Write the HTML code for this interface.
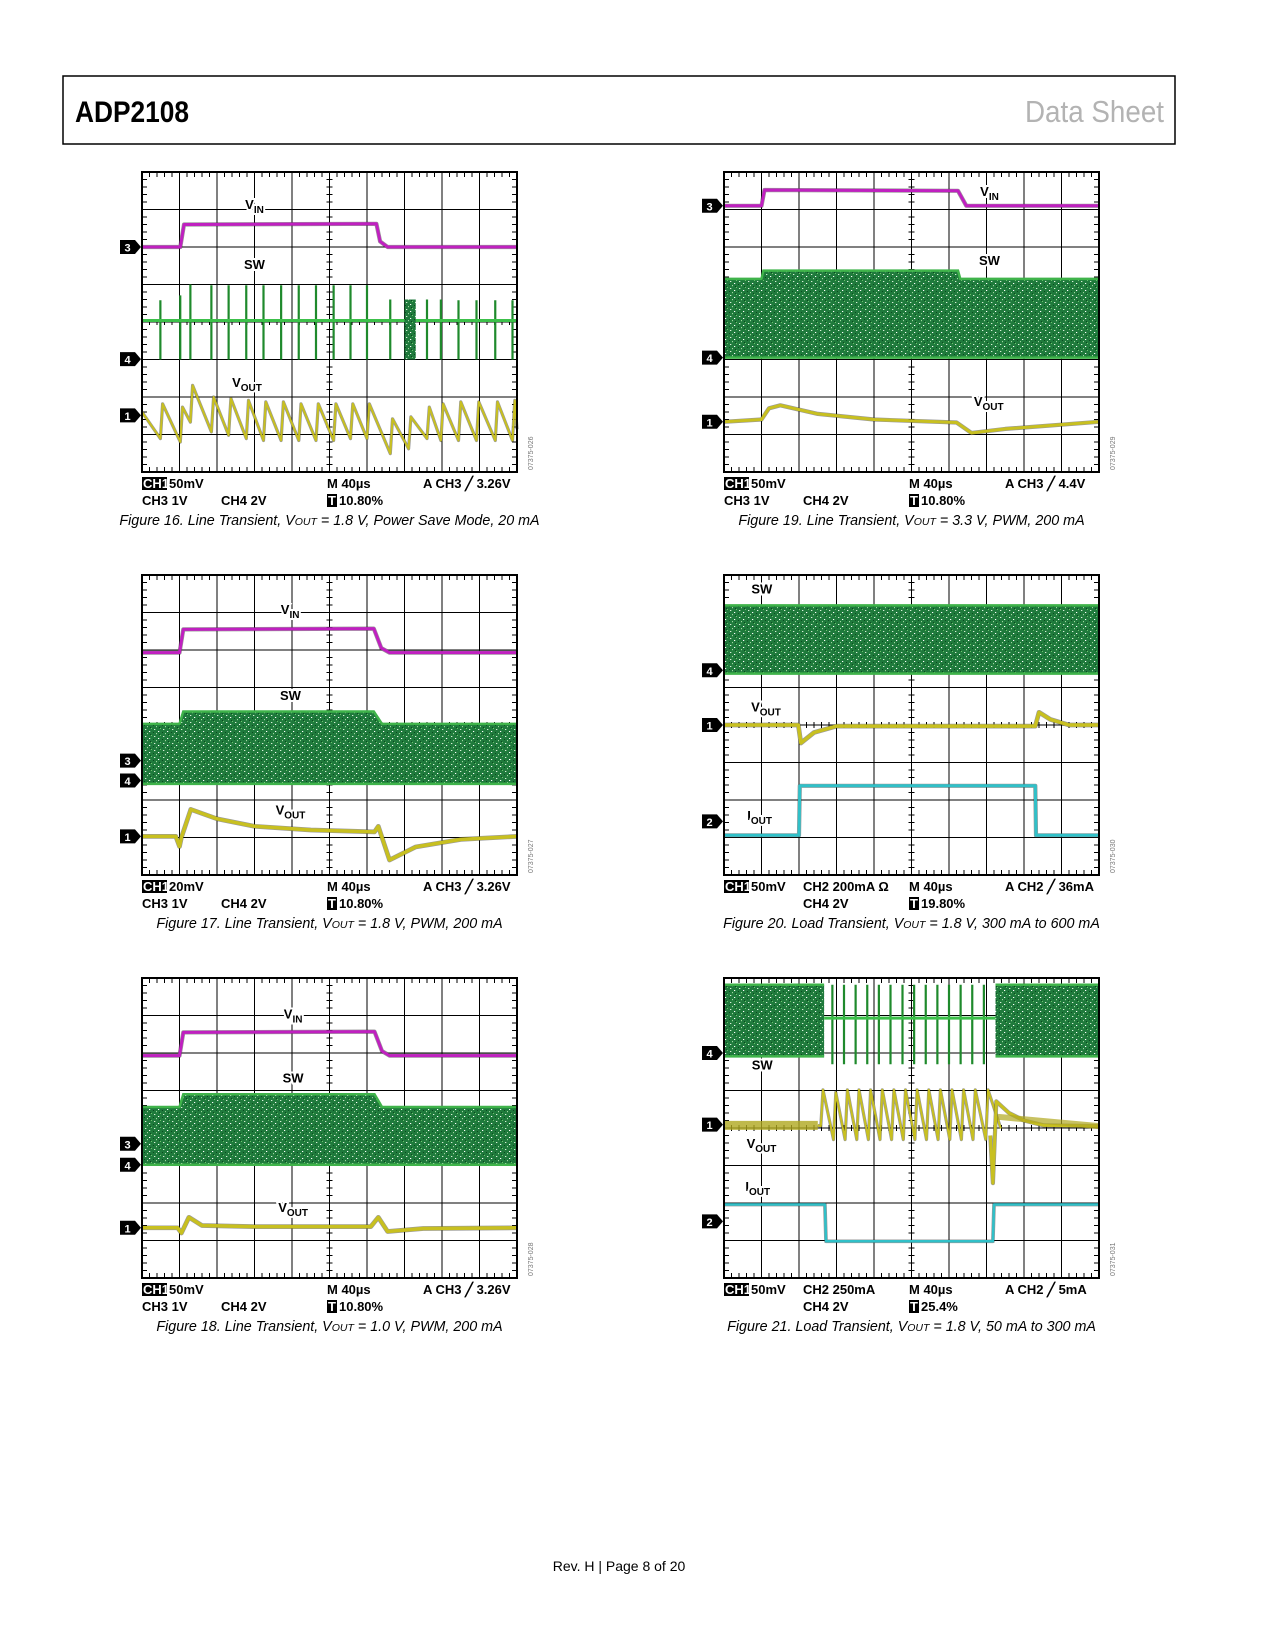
<!DOCTYPE html>
<html><head><meta charset="utf-8">
<style>
html,body{margin:0;padding:0;background:#fff;}
svg{display:block;}
text{font-family:"Liberation Sans",sans-serif;}
</style></head>
<body>
<svg id="page" width="1275" height="1650" viewBox="0 0 1275 1650" xmlns="http://www.w3.org/2000/svg">
<defs>
<pattern id="noise" width="9" height="7" patternUnits="userSpaceOnUse">
<rect width="9" height="7" fill="#1f7a3c"/>
<rect x="1" y="1" width="1.3" height="1" fill="#d8f0d8"/>
<rect x="5" y="3" width="1.2" height="1" fill="#ffffff"/>
<rect x="3" y="5" width="1" height="1.2" fill="#9fd89f"/>
<rect x="7" y="0" width="1" height="1" fill="#6cc46c"/>
<rect x="0" y="4" width="1" height="1" fill="#0c4a20"/>
<rect x="6" y="6" width="1" height="1" fill="#0c4a20"/>
</pattern>
</defs>
<rect x="63" y="76" width="1112" height="68" fill="none" stroke="#000" stroke-width="1.5"/>
<text x="75" y="122" font-size="30" font-weight="bold" textLength="114" lengthAdjust="spacingAndGlyphs">ADP2108</text>
<text x="1025" y="122" font-size="31" fill="#b3b3b3" textLength="139" lengthAdjust="spacingAndGlyphs">Data Sheet</text>
<text x="619" y="1571" font-size="14" text-anchor="middle">Rev. H | Page 8 of 20</text>
<g id="plots"></g>
</svg>
<script>
// ---------- Figure 16 data (divisions) ----------
const f16VinX=[0,1.02,1.12,6.25,6.35,6.55,10];
const f16VinY=[2.0,2.0,1.4,1.38,1.85,2.0,2.0];
const f16SpikeX=[0.49,1.02,1.29,1.85,2.31,2.78,3.24,3.71,4.18,4.64,5.11,5.56,6.0,6.62,7.11,7.6,7.97,8.44,8.92,9.42,9.88];
const f16SpikeTop=[3.42,3.29,3.0,3.02,3.02,3.02,3.02,3.02,3.02,3.02,3.02,3.02,3.02,3.4,3.4,3.4,3.4,3.42,3.42,3.42,3.42];
const f16RipPeak=[6.18,6.27,5.69,6.0,6.04,6.09,6.13,6.13,6.18,6.18,6.18,6.18,6.18,6.58,6.53,6.27,6.18,6.13,6.13,6.13,6.09];
const f16RipTrough=[7.11,7.2,6.67,6.93,7.02,7.11,7.16,7.16,7.16,7.16,7.16,7.11,7.11,7.51,7.38,7.11,7.16,7.16,7.16,7.16,7.16];
// ---------- Figure 19 ----------
const f19VinX=[0,1.0,1.08,6.24,6.46,10];
const f19VinY=[0.9,0.9,0.48,0.5,0.9,0.9];
const f19BandX=[0,1.0,1.05,6.24,6.3,10];
const f19BandTop=[2.85,2.85,2.63,2.63,2.85,2.85];
const f19BandBot=4.95;
const f19VoutX=[0,1.0,1.2,1.5,2.5,4,6.2,6.3,6.6,7.5,10];
const f19VoutY=[6.66,6.6,6.3,6.22,6.45,6.6,6.68,6.75,6.96,6.85,6.66];
// ---------- Figure 17 ----------
const f17VinX=[0,1.0,1.1,6.18,6.38,6.6,10];
const f17VinY=[2.07,2.07,1.45,1.43,1.95,2.07,2.07];
const f17BandX=[0,1.0,1.1,6.18,6.4,10];
const f17BandTop=[3.97,3.97,3.64,3.64,3.97,3.97];
const f17BandBot=5.57;
const f17VoutX=[0,0.9,1.0,1.05,1.3,2,3,4.5,6.2,6.3,6.6,7.3,8.5,10];
const f17VoutY=[6.97,6.97,7.24,7.0,6.25,6.5,6.7,6.8,6.85,6.7,7.6,7.25,7.05,6.97];
// ---------- Figure 18 ----------
const f18VinX=[0,1.0,1.1,6.2,6.4,6.6,10];
const f18VinY=[2.07,2.07,1.45,1.43,1.95,2.07,2.07];
const f18BandX=[0,1.0,1.1,6.2,6.4,10];
const f18BandTop=[3.44,3.44,3.1,3.1,3.44,3.44];
const f18BandBot=4.98;
const f18VoutX=[0,0.95,1.05,1.25,1.6,3,6.1,6.3,6.55,7.5,10];
const f18VoutY=[6.66,6.66,6.8,6.38,6.6,6.63,6.63,6.38,6.76,6.68,6.66];
// ---------- Figure 20 ----------
const f20BandX=[0,10];
const f20BandTop=[0.81,0.81];
const f20BandBot=2.63;
const f20VoutX=[0,1.98,2.05,2.4,3.0,8.3,8.4,8.7,9.2,10];
const f20VoutY=[4.0,4.0,4.48,4.2,4.03,4.03,3.66,3.85,4.0,4.0];
const f20IoutX=[0,2.0,2.02,8.3,8.32,10];
const f20IoutY=[6.94,6.94,5.62,5.62,6.94,6.94];
// ---------- Figure 21 ----------
const f21BandAX=[0,2.67];
const f21BandBX=[7.24,10];
const f21BandTop=0.18;
const f21BandBot=2.09;
const f21SpikeX=[2.89,3.2,3.51,3.82,4.13,4.44,4.76,5.07,5.38,5.69,6.0,6.31,6.62,6.93];
const f21RipX=[2.58,2.92,3.23,3.54,3.85,4.16,4.47,4.78,5.09,5.4,5.71,6.02,6.33,6.64,6.98];
const f21RipPeak=[2.98,3.05,2.98,2.98,2.98,2.98,2.98,2.98,2.98,2.98,2.98,2.98,2.98,2.98,2.98];
const f21RipTrough=[3.95,4.31,4.31,4.31,4.31,4.31,4.31,4.31,4.31,4.31,4.31,4.31,4.31,4.31,4.31];
const f21TailX=[7.1,7.17,7.26,7.6,8.0,8.53,10];
const f21TailY=[4.2,5.47,3.29,3.6,3.8,3.93,3.95];
const f21IoutX=[0,2.69,2.72,7.17,7.2,10];
const f21IoutY=[6.04,6.04,7.02,7.02,6.04,6.04];

const NS="http://www.w3.org/2000/svg";
const root=document.getElementById('plots');
const DIV=37.5, PW=375, PH=300;
function mk(parent,tag,attrs,name){
  const el=document.createElementNS(NS,tag);
  for(const k in attrs) el.setAttribute(k,attrs[k]);
  
  
  parent.appendChild(el);
  return el;
}
function X(p,d){return p.x+d*DIV;}
function Y(p,d){return p.y+d*DIV;}
function pts(p,xs,ys){return xs.map((x,i)=>X(p,x).toFixed(1)+','+Y(p,ys[i]).toFixed(1)).join(' ');}

function grid(g,p){
  let d='';
  for(let i=1;i<10;i++) d+=`M${X(p,i)},${p.y}V${p.y+PH}`;
  for(let j=1;j<8;j++) d+=`M${p.x},${Y(p,j)}H${p.x+PW}`;
  mk(g,'path',{d:d,stroke:'#000','stroke-width':1,fill:'none'},'gridlines');
  let t='';
  for(let k=1;k<50;k++){const x=p.x+k*DIV/5;t+=`M${x},${p.y}v5M${x},${p.y+PH}v-5M${x},${Y(p,4)-3}v6`;}
  for(let k=1;k<40;k++){const y=p.y+k*DIV/5;t+=`M${p.x},${y}h5M${p.x+PW},${y}h-5M${X(p,5)-3},${y}h6`;}
  mk(g,'path',{d:t,stroke:'#000','stroke-width':1,fill:'none'},'minor-ticks');
}
function border(g,p){mk(g,'rect',{x:p.x,y:p.y,width:PW,height:PH,fill:'none',stroke:'#000','stroke-width':2},'plot-border');}
function trace(g,p,xs,ys,color,w,name){
  mk(g,'polyline',{points:pts(p,xs,ys),fill:'none',stroke:'#333','stroke-width':w+1.2,'stroke-linejoin':'round',opacity:0.5},name+'-shadow');
  mk(g,'polyline',{points:pts(p,xs,ys),fill:'none',stroke:color,'stroke-width':w,'stroke-linejoin':'round'},name);
}
function band(g,p,xs,tops,bot,name){
  let d=`M${X(p,xs[0])},${Y(p,bot)}`;
  xs.forEach((x,i)=>{d+=`L${X(p,x)},${Y(p,tops[i])}`;});
  d+=`L${X(p,xs[xs.length-1])},${Y(p,bot)}Z`;
  mk(g,'path',{d:d,fill:'url(#noise)'},name);
  mk(g,'polyline',{points:pts(p,xs,tops),fill:'none',stroke:'#3fb34a','stroke-width':2.5},name+'-top-edge');
  mk(g,'line',{x1:X(p,xs[0]),x2:X(p,xs[xs.length-1]),y1:Y(p,bot),y2:Y(p,bot),stroke:'#3fb34a','stroke-width':2.5},name+'-bottom-edge');
}
function sawtooth(g,p,rx,peak,trough,startX,startY,color,name){
  const xs=[startX], ys=[startY];
  rx.forEach((x,i)=>{xs.push(x);ys.push(trough[i]);xs.push(x+0.06);ys.push(peak[i]);});
  xs.push(Math.min(10,rx[rx.length-1]+0.4)); ys.push(trough[trough.length-1]-0.3);
  trace(g,p,xs,ys,color,2,name);
}
function marker(g,p,yd,num){
  const y=Y(p,yd), x=p.x;
  mk(g,'path',{d:`M${x-22},${y-7}h15l6,7l-6,7h-15z`,fill:'#000'},'channel-marker-'+num);
  mk(g,'text',{x:x-14.5,y:y+4.5,'font-size':11,'font-weight':'bold',fill:'#fff','text-anchor':'middle'},'channel-marker-label-'+num).textContent=num;
}
function label(g,p,xd,yd,main,sub,name){
  const t=mk(g,'text',{x:X(p,xd),y:Y(p,yd)+5,'font-size':13,'font-weight':'bold','text-anchor':'middle',stroke:'#fff','stroke-width':4,'paint-order':'stroke'},name);
  t.appendChild(document.createTextNode(main));
  if(sub){const s=document.createElementNS(NS,'tspan');s.setAttribute('font-size','10');s.setAttribute('dy','4');s.textContent=sub;t.appendChild(s);}
}
function footer(g,p,items,caption,capSub,capRest,id){
  const y1=p.y+PH+16, y2=p.y+PH+33;
  items.forEach(it=>{
    const y=it.row===1?y1:y2;
    if(it.box){
      mk(g,'rect',{x:p.x+it.x,y:y-11,width:it.bw,height:13,fill:'#000'},'readout-box');
      mk(g,'text',{x:p.x+it.x+1,y:y,'font-size':13,'font-weight':'bold',fill:'#fff'},'readout-box-text').textContent=it.box;
      mk(g,'text',{x:p.x+it.x+it.bw+2,y:y,'font-size':13,'font-weight':'bold'},'readout-text').textContent=it.t;
    } else {
      mk(g,'text',{x:p.x+it.x,y:y,'font-size':13,'font-weight':'bold'},'readout-text').textContent=it.t;
    }
  });
  const c=mk(g,'text',{x:p.x+PW/2,y:p.y+PH+53,'font-size':14.3,'font-style':'italic','text-anchor':'middle'},'figure-caption');
  c.appendChild(document.createTextNode(caption));
  const s=document.createElementNS(NS,'tspan');s.setAttribute('font-size','10.5');s.textContent=capSub;c.appendChild(s);
  c.appendChild(document.createTextNode(capRest));
  const r=mk(g,'text',{x:p.x+PW+16,y:p.y+PH-2,'font-size':7,fill:'#777',transform:`rotate(-90 ${p.x+PW+16} ${p.y+PH-2})`},'figure-id');
  r.textContent=id;
}
function stdItems(ch1,trig){
  return [{row:1,x:0,box:'CH1',bw:25,t:ch1},{row:2,x:0,t:'CH3 1V'},{row:2,x:79,t:'CH4 2V'},
    {row:1,x:185,t:'M 40µs'},{row:2,x:185,box:'T',bw:10,t:' 10.80%'},{row:1,x:281,t:'A  CH3 \u2571 '+trig}];
}
function spikes(g,p,xs,tops,bot,base,name){
  let d='';
  xs.forEach((x,i)=>{d+=`M${X(p,x)},${Y(p,tops[i])}V${Y(p,bot)}`;});
  mk(g,'path',{d:d,stroke:'#1f8a2c','stroke-width':2.2,fill:'none'},name);
  mk(g,'line',{x1:X(p,base[0]),x2:X(p,base[1]),y1:Y(p,base[2]),y2:Y(p,base[2]),stroke:'#3cc04a','stroke-width':3},name+'-baseline');
}

const P16={x:142,y:172},P19={x:724,y:172},P17={x:142,y:575},P20={x:724,y:575},P18={x:142,y:978},P21={x:724,y:978};

// Figure 16
(function(){const p=P16;const g=mk(root,'g',{},'figure-16');grid(g,p);
  spikes(g,p,f16SpikeX,f16SpikeTop,5.0,[0,10,3.96],'sw-trace');
  mk(g,'rect',{x:X(p,7.0),y:Y(p,3.4),width:0.3*DIV,height:1.6*DIV,fill:'url(#noise)'},'sw-burst');
  trace(g,p,f16VinX,f16VinY,'#c020c0',3,'vin-trace');
  sawtooth(g,p,f16SpikeX,f16RipPeak,f16RipTrough,0,6.4,'#c8c020','vout-trace');
  border(g,p);marker(g,p,2.0,'3');marker(g,p,4.99,'4');marker(g,p,6.49,'1');
  label(g,p,3.0,0.85,'V','IN','vin-label');label(g,p,3.0,2.45,'SW','','sw-label');label(g,p,2.8,5.6,'V','OUT','vout-label');
  footer(g,p,stdItems('50mV','3.26V'),'Figure 16. Line Transient, V','OUT',' = 1.8 V, Power Save Mode, 20 mA','07375-026');})();
// Figure 19
(function(){const p=P19;const g=mk(root,'g',{},'figure-19');grid(g,p);
  band(g,p,f19BandX,f19BandTop,f19BandBot,'sw-band');
  trace(g,p,f19VinX,f19VinY,'#c020c0',3,'vin-trace');
  trace(g,p,f19VoutX,f19VoutY,'#c8c020',3,'vout-trace');
  border(g,p);marker(g,p,0.9,'3');marker(g,p,4.95,'4');marker(g,p,6.66,'1');
  label(g,p,7.08,0.5,'V','IN','vin-label');label(g,p,7.08,2.35,'SW','','sw-label');label(g,p,7.06,6.1,'V','OUT','vout-label');
  footer(g,p,stdItems('50mV','4.4V'),'Figure 19. Line Transient, V','OUT',' = 3.3 V, PWM, 200 mA','07375-029');})();
// Figure 17
(function(){const p=P17;const g=mk(root,'g',{},'figure-17');grid(g,p);
  band(g,p,f17BandX,f17BandTop,f17BandBot,'sw-band');
  trace(g,p,f17VinX,f17VinY,'#c020c0',3,'vin-trace');
  trace(g,p,f17VoutX,f17VoutY,'#c8c020',3.5,'vout-trace');
  border(g,p);marker(g,p,4.95,'3');marker(g,p,5.48,'4');marker(g,p,6.97,'1');
  label(g,p,3.95,0.9,'V','IN','vin-label');label(g,p,3.96,3.2,'SW','','sw-label');label(g,p,3.96,6.25,'V','OUT','vout-label');
  footer(g,p,stdItems('20mV','3.26V'),'Figure 17. Line Transient, V','OUT',' = 1.8 V, PWM, 200 mA','07375-027');})();
// Figure 18
(function(){const p=P18;const g=mk(root,'g',{},'figure-18');grid(g,p);
  band(g,p,f18BandX,f18BandTop,f18BandBot,'sw-band');
  trace(g,p,f18VinX,f18VinY,'#c020c0',3,'vin-trace');
  trace(g,p,f18VoutX,f18VoutY,'#c8c020',3.5,'vout-trace');
  border(g,p);marker(g,p,4.42,'3');marker(g,p,4.98,'4');marker(g,p,6.66,'1');
  label(g,p,4.03,0.95,'V','IN','vin-label');label(g,p,4.03,2.65,'SW','','sw-label');label(g,p,4.03,6.1,'V','OUT','vout-label');
  footer(g,p,stdItems('50mV','3.26V'),'Figure 18. Line Transient, V','OUT',' = 1.0 V, PWM, 200 mA','07375-028');})();
// Figure 20
(function(){const p=P20;const g=mk(root,'g',{},'figure-20');grid(g,p);
  band(g,p,f20BandX,f20BandTop,f20BandBot,'sw-band');
  trace(g,p,f20VoutX,f20VoutY,'#c8c020',3.5,'vout-trace');
  trace(g,p,f20IoutX,f20IoutY,'#30c0c8',3,'iout-trace');
  border(g,p);marker(g,p,2.54,'4');marker(g,p,4.0,'1');marker(g,p,6.57,'2');
  label(g,p,1.01,0.36,'SW','','sw-label');label(g,p,1.12,3.5,'V','OUT','vout-label');label(g,p,0.95,6.4,'I','OUT','iout-label');
  footer(g,p,[{row:1,x:0,box:'CH1',bw:25,t:' 50mV'},{row:1,x:79,t:'CH2  200mA \u03A9'},{row:2,x:79,t:'CH4 2V'},
    {row:1,x:185,t:'M 40µs'},{row:2,x:185,box:'T',bw:10,t:' 19.80%'},{row:1,x:281,t:'A  CH2 \u2571  36mA'}],
    'Figure 20. Load Transient, V','OUT',' = 1.8 V, 300 mA to 600 mA','07375-030');})();
// Figure 21
(function(){const p=P21;const g=mk(root,'g',{},'figure-21');grid(g,p);
  band(g,p,f21BandAX,[f21BandTop,f21BandTop],f21BandBot,'sw-band-left');
  band(g,p,f21BandBX,[f21BandTop,f21BandTop],f21BandBot,'sw-band-right');
  spikes(g,p,f21SpikeX,f21SpikeX.map(()=>f21BandTop),2.3,[2.67,7.24,1.07],'sw-spikes');
  mk(g,'polyline',{points:pts(p,[0,2.5],[3.93,3.93]),stroke:'#b0a820','stroke-width':9,opacity:0.8},'vout-noise');
  sawtooth(g,p,f21RipX,f21RipPeak,f21RipTrough,2.5,3.93,'#c8c020','vout-ripple');
  trace(g,p,f21TailX,f21TailY,'#c8c020',3,'vout-recovery');
  mk(g,'polyline',{points:pts(p,[7.3,10],[3.7,3.95]),stroke:'#b0a820','stroke-width':6,opacity:0.7,fill:'none'},'vout-recovery-noise');
  trace(g,p,f21IoutX,f21IoutY,'#30c0c8',2.5,'iout-trace');
  border(g,p);marker(g,p,2.0,'4');marker(g,p,3.91,'1');marker(g,p,6.49,'2');
  label(g,p,1.02,2.3,'SW','','sw-label');label(g,p,1.0,4.4,'V','OUT','vout-label');label(g,p,0.9,5.55,'I','OUT','iout-label');
  footer(g,p,[{row:1,x:0,box:'CH1',bw:25,t:' 50mV'},{row:1,x:79,t:'CH2  250mA'},{row:2,x:79,t:'CH4 2V'},
    {row:1,x:185,t:'M 40µs'},{row:2,x:185,box:'T',bw:10,t:' 25.4%'},{row:1,x:281,t:'A  CH2 \u2571  5mA'}],
    'Figure 21. Load Transient, V','OUT',' = 1.8 V, 50 mA to 300 mA','07375-031');})();
</script>
</body></html>
